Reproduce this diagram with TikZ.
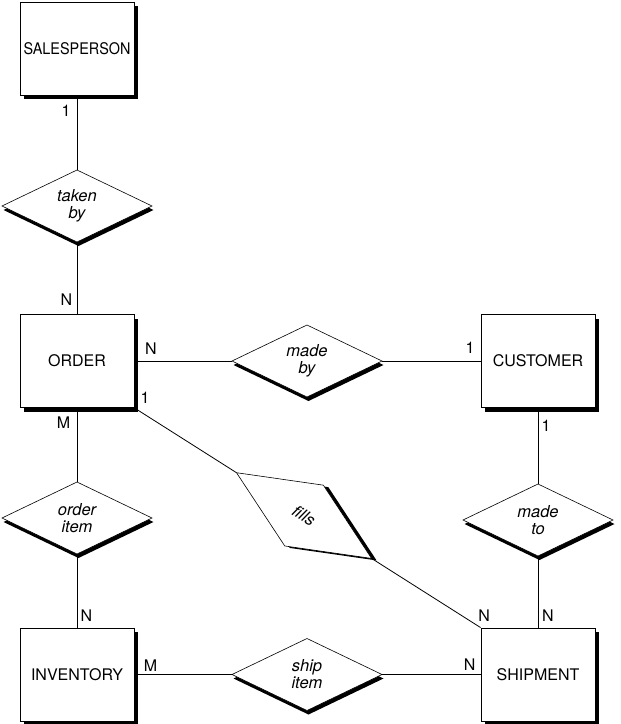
\documentclass[tikz,border=0pt]{standalone}
\usepackage{fontspec}
\setmainfont{TeX Gyre Heros}
\usepackage{tikz}
\usetikzlibrary{shapes.geometric, shadows, calc, positioning, backgrounds}
\tikzset{
  entity/.style={rectangle, draw, fill=white, minimum width=114pt,
    minimum height=93pt, inner sep=0pt, line width=0.9pt,
    font=\fontsize{16}{18}\selectfont,
    drop shadow={shadow xshift=4pt, shadow yshift=-4pt, fill=black, opacity=1}},
  rel/.style={diamond, draw, fill=white, aspect=2, inner sep=0pt, outer sep=0pt,
    minimum width=150pt, minimum height=72pt, line width=0.6pt, align=center,
    font=\fontsize{16.5}{17}\selectfont\itshape},
  relship/.style={rel,
    drop shadow={shadow xshift=1.5pt, shadow yshift=-4pt, fill=black, opacity=1}},
  card/.style={inner sep=0pt, font=\fontsize{16}{18}\selectfont},
  link/.style={line width=0.8pt}
}

\begin{document}
\begin{tikzpicture}[x=1pt, y=-1pt]
  \useasboundingbox (0,0) rectangle (621,724);

  % Entities
  \node[entity] (sales) at (77,48.5) {\scalebox{0.9}[1]{SALESPERSON}};
  \node[entity] (order) at (77,361) {ORDER};
  \node[entity] (customer) at (538,361) {CUSTOMER};
  \node[entity] (inventory) at (77,674.5) {INVENTORY};
  \node[entity] (shipment) at (538,674.5) {SHIPMENT};

  % Relationships
  \node[relship] (takenby) at (77,206) {taken\\by};
  \node[relship] (madeby) at (307,361) {made\\by};
  \node[relship] (orderitem) at (77,518) {order\\item};
  \node[relship] (madeto) at (538,520) {made\\to};
  \node[relship] (shipitem) at (307,674.5) {ship\\item};

  % fills sits on the diagonal ORDER -- SHIPMENT
  \coordinate (fc) at ($(order.south east)!0.49!(shipment.north west)$);
  \node[rel, rotate=-32.4, minimum width=160pt] (fills) at (fc) {f\kern0pt ills};
  \begin{scope}[on background layer]
    \fill ([shift={(5,2)}]fills.west) -- ([shift={(5,2)}]fills.north)
      -- ([shift={(5,2)}]fills.east) -- ([shift={(5,2)}]fills.south) -- cycle;
  \end{scope}

  % Connectors
  \draw[link] (sales.south) -- (takenby.north);
  \draw[link] (takenby.south) -- (order.north);
  \draw[link] (order.east) -- (madeby.west);
  \draw[link] (madeby.east) -- (customer.west);
  \draw[link] (order.south) -- (orderitem.north);
  \draw[link] (orderitem.south) -- (inventory.north);
  \draw[link] (customer.south) -- (madeto.north);
  \draw[link] (madeto.south) -- (shipment.north);
  \draw[link] (inventory.east) -- (shipitem.west);
  \draw[link] (shipitem.east) -- (shipment.west);
  \draw[link] (order.south east) -- (fills.west);
  \draw[link] (fills.east) -- (shipment.north west);

  % Cardinalities
  \node[card] at ([shift={(-11,15)}]sales.south) {1};
  \node[card] at ([shift={(-10.5,-14.5)}]order.north) {N};
  \node[card] at ([shift={(16.5,-12)}]order.east) {N};
  \node[card] at ([shift={(10.5,-10.5)}]order.south east) {1};
  \node[card] at ([shift={(-13.5,15)}]order.south) {M};
  \node[card] at ([shift={(-10.5,-13.5)}]customer.west) {1};
  \node[card] at ([shift={(8,18)}]customer.south) {1};
  \node[card] at ([shift={(9.5,-12)}]inventory.north) {N};
  \node[card] at ([shift={(16,-9)}]inventory.east) {M};
  \node[card] at ([shift={(-11,-10)}]shipment.west) {N};
  \node[card] at ([shift={(3.5,-12)}]shipment.north west) {N};
  \node[card] at ([shift={(10,-12)}]shipment.north) {N};
\end{tikzpicture}
\end{document}
